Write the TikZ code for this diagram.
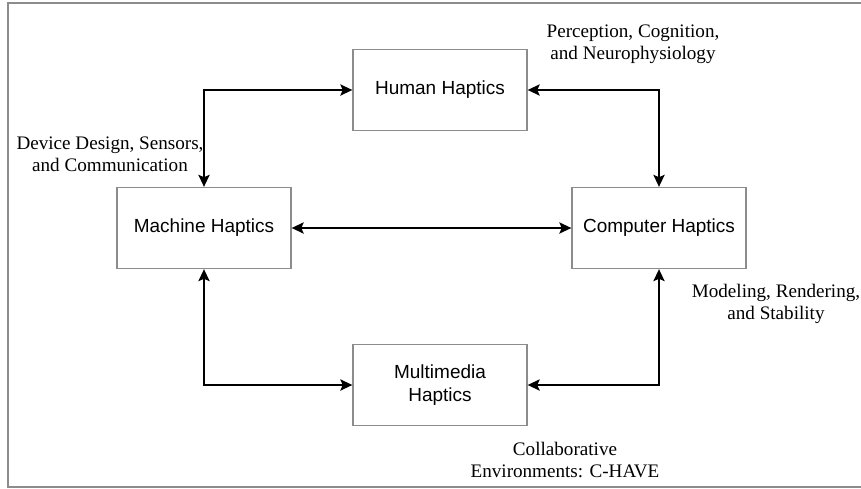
\documentclass[tikz,border=0pt]{standalone}
\usepackage{fontspec}
\setmainfont{Liberation Serif}
\setsansfont{Liberation Sans}
\usetikzlibrary{arrows.meta,positioning}
\definecolor{framegray}{HTML}{8C8C8C}

\begin{document}
\begin{tikzpicture}[x=0.025cm, y=-0.025cm,
  hbox/.style={draw=framegray, line width=0.9pt, minimum width=4.35cm, minimum height=2.025cm, align=center, font=\sffamily\fontsize{13.5}{16}\selectfont},
  note/.style={align=center, font=\fontsize{13.6}{15.6}\selectfont},
  link/.style={{Stealth[length=3mm,width=2.8mm,inset=0.6mm]}-{Stealth[length=3mm,width=2.8mm,inset=0.6mm]}, line width=1.4pt}]
  \useasboundingbox (0,0) rectangle (861,488);
  \draw[framegray, line width=0.8pt] (863,3) -- (8,3) -- (8,487) -- (863,487);
  % the four kinds of haptics
  \node[hbox] (human) at (440,90) {Human Haptics};
  \node[hbox] (machine) at (204,228) {Machine Haptics};
  \node[hbox] (computer) at (659,228) {Computer Haptics};
  \node[hbox] (multi) at (440,385) {Multimedia\\Haptics};
  % links
  \draw[link] (human.west) -| (machine.north);
  \draw[link] (human.east) -| (computer.north);
  \draw[link] (machine.east) -- (computer.west);
  \draw[link] (machine.south) |- (multi.west);
  \draw[link] (computer.south) |- (multi.east);
  % topics
  \node[note] (devlbl) at (110,154) {Device Design, Sensors,\\and Communication};
  \node[note] (perclbl) at (633,44) {Perception, Cognition,\\and Neurophysiology};
  \node[note] (modlbl) at (776,304) {Modeling, Rendering,\\and Stability};
  \node[note] (collbl) at (565,460) {Collaborative\\Environments: C-HAVE};
\end{tikzpicture}
\end{document}
